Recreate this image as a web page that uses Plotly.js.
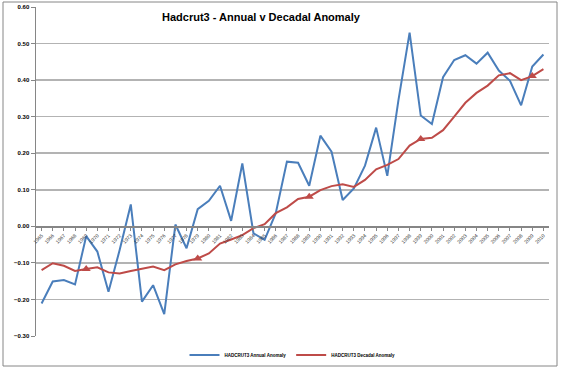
<!DOCTYPE html>
<html>
<head>
<meta charset="utf-8">
<script src="https://cdn.plot.ly/plotly-3.0.1.min.js"></script>
<style>html,body{margin:0;padding:0;background:#fff;}#chart{width:562px;height:370px;}</style>
</head>
<body>
<div id="chart"></div>
<script>
const years = ["1965","1966","1967","1968","1969","1970","1971","1972","1973","1974","1975","1976","1977","1978","1979","1980","1981","1982","1983","1984","1985","1986","1987","1988","1989","1990","1991","1992","1993","1994","1995","1996","1997","1998","1999","2000","2001","2002","2003","2004","2005","2006","2007","2008","2009","2010"];
const annual = [-0.211,-0.151,-0.147,-0.159,-0.027,-0.069,-0.179,-0.065,0.060,-0.206,-0.161,-0.240,0.005,-0.060,0.047,0.070,0.111,0.015,0.172,-0.019,-0.037,0.036,0.177,0.174,0.111,0.248,0.204,0.072,0.104,0.166,0.270,0.138,0.345,0.530,0.303,0.280,0.408,0.455,0.468,0.445,0.475,0.426,0.398,0.331,0.437,0.470];
const decadal = [-0.120,-0.101,-0.108,-0.122,-0.117,-0.112,-0.126,-0.129,-0.122,-0.115,-0.110,-0.120,-0.104,-0.095,-0.088,-0.074,-0.047,-0.036,-0.024,-0.005,0.006,0.036,0.052,0.075,0.081,0.099,0.110,0.115,0.108,0.127,0.156,0.168,0.184,0.221,0.239,0.242,0.263,0.300,0.338,0.365,0.385,0.413,0.419,0.400,0.411,0.430];
const markerYears = ["1969","1979","1989","1999","2009"];
const yTicks = [-0.3,-0.2,-0.1,0,0.1,0.2,0.3,0.4,0.5,0.6];

const markerVals = markerYears.map(y => decadal[years.indexOf(y)]);

const traces = [
  {x: years, y: annual, type: 'scatter', mode: 'lines', name: 'HADCRUT3 Annual Anomaly',
   line: {color: '#4a7ebb', width: 2}},
  {x: years, y: decadal, type: 'scatter', mode: 'lines', name: 'HADCRUT3 Decadal Anomaly',
   line: {color: '#be4b48', width: 2}},
  {x: markerYears, y: markerVals, type: 'scatter', mode: 'markers', showlegend: false,
   marker: {symbol: 'triangle-up', size: 8, color: '#be4b48'}}
];

const layout = {
  width: 562, height: 370, autosize: false,
  margin: {l: 36, r: 13, t: 7, b: 34, autoexpand: false},
  paper_bgcolor: '#ffffff', plot_bgcolor: '#ffffff',
  font: {family: 'Liberation Sans, Arial, sans-serif', color: '#000'},
  title: {text: '<b>Hadcrut3 - Annual v Decadal Anomaly</b>', x: 261/562, xanchor: 'center',
          y: 1 - 17/370, yanchor: 'middle', yref: 'container',
          font: {family: 'Liberation Sans Narrow, Liberation Sans, Arial', size: 11, color: '#000'}},
  xaxis: {type: 'category', range: [-0.5, 45.5], anchor: 'free', position: 0.3/0.9,
          tickangle: -45, tickfont: {size: 5, color: '#333333'},
          showgrid: false, showline: true, linecolor: '#868686', linewidth: 1.5,
          ticks: 'outside', ticklen: 3, tickcolor: '#868686', zeroline: false, fixedrange: true},
  yaxis: {range: [-0.3, 0.6], tickvals: yTicks, tickformat: '.2f',
          tickfont: {size: 6, color: '#000', weight: 'bold'},
          showgrid: true, gridcolor: '#b3b3b3', gridwidth: 1.5,
          showline: true, linecolor: '#868686', linewidth: 1.5,
          ticks: 'outside', ticklen: 4, tickcolor: '#868686', zeroline: false, fixedrange: true},
  legend: {orientation: 'h', x: 0.5, xanchor: 'center', y: (336-355)/329, yanchor: 'middle',
           itemwidth: 30, tracegroupgap: 0,
           font: {size: 4.5, color: '#000', weight: 'bold'}, bgcolor: 'rgba(0,0,0,0)'},
  shapes: [{type: 'rect', xref: 'paper', yref: 'paper',
            x0: (3-36)/513, x1: (557-36)/513, y0: (336-366)/329, y1: (336-2)/329,
            line: {color: '#868686', width: 1}, fillcolor: 'rgba(0,0,0,0)'}],
  showlegend: true
};

Plotly.newPlot('chart', traces, layout, {displayModeBar: false, staticPlot: true});
</script>
</body>
</html>
